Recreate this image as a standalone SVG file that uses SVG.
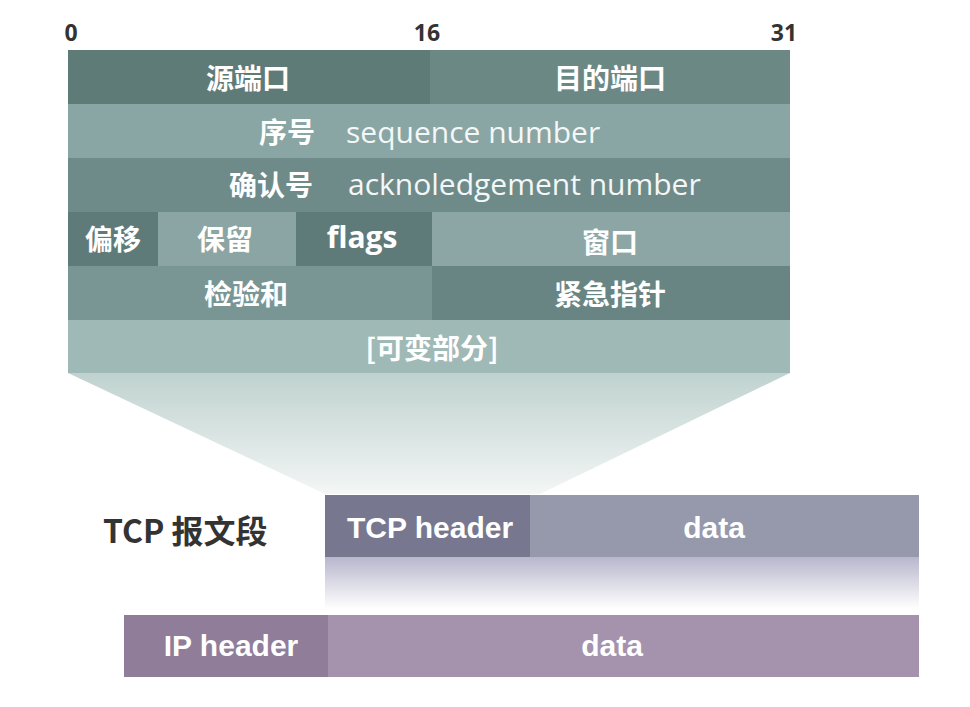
<svg xmlns="http://www.w3.org/2000/svg" width="970" height="707" viewBox="0 0 970 707">
<defs>
<linearGradient id="funnel" x1="0" y1="0" x2="0" y2="1">
<stop offset="0" stop-color="#bfd2cf"/>
<stop offset="1" stop-color="#f3f6f5"/>
</linearGradient>
<linearGradient id="fade" x1="0" y1="0" x2="0" y2="1">
<stop offset="0" stop-color="#b8b6cc"/>
<stop offset="1" stop-color="#ffffff"/>
</linearGradient>
<style>
.t{font-family:"Noto Sans CJK SC","Noto Sans",sans-serif;font-weight:bold;fill:#ffffff;text-anchor:middle;dominant-baseline:central;font-size:28px}
.e{font-family:"Open Sans","Noto Sans",sans-serif;font-weight:normal;fill:#f4f7f7;font-size:30px;dominant-baseline:central}
.n{font-family:"Open Sans","Noto Sans",sans-serif;font-weight:bold;fill:#333333;font-size:23px;text-anchor:middle}
.w{font-family:"Liberation Sans","Noto Sans",sans-serif;font-weight:bold;fill:#ffffff;font-size:30px;text-anchor:middle;dominant-baseline:central}
</style>
</defs>
<rect width="970" height="707" fill="#ffffff"/>
<g id="funnel-shape">
<polygon points="68,373 790,373 540,494 325,494" fill="url(#funnel)"/>
</g>
<g id="bit-labels">
<text class="n" x="71" y="41">0</text>
<text class="n" x="427" y="41">16</text>
<text class="n" x="784" y="41">31</text>
</g>
<g id="row1">
<rect x="68" y="50" width="362" height="54" fill="#5f7b78"/>
<rect x="430" y="50" width="360" height="54" fill="#6c8885"/>
<text class="t" x="248" y="77">源端口</text>
<text class="t" x="610" y="77">目的端口</text>
</g>
<g id="row2">
<rect x="68" y="104" width="722" height="54" fill="#8aa6a4"/>
<text class="t" x="287" y="131">序号</text>
<text class="e" x="346" y="131">sequence number</text>
</g>
<g id="row3">
<rect x="68" y="158" width="722" height="54" fill="#6f8b89"/>
<text class="t" x="271" y="184">确认号</text>
<text class="e" x="348" y="183">acknoledgement number</text>
</g>
<g id="row4">
<rect x="68" y="212" width="90" height="54" fill="#5f7b79"/>
<rect x="158" y="212" width="138" height="54" fill="#8aa5a3"/>
<rect x="296" y="212" width="136" height="54" fill="#5f7b79"/>
<rect x="432" y="212" width="358" height="54" fill="#8ba6a4"/>
<text class="t" x="113" y="238">偏移</text>
<text class="t" x="225" y="238">保留</text>
<text class="w" x="362" y="236" style="font-family:'Open Sans','Noto Sans',sans-serif">flags</text>
<text class="t" x="610" y="241">窗口</text>
</g>
<g id="row5">
<rect x="68" y="266" width="364" height="54" fill="#7a9694"/>
<rect x="432" y="266" width="358" height="54" fill="#698583"/>
<text class="t" x="246" y="293">检验和</text>
<text class="t" x="610" y="293">紧急指针</text>
</g>
<g id="row6">
<rect x="68" y="320" width="722" height="53" fill="#9fb9b6"/>
<text class="t" x="432" y="347">[可变部分]</text>
</g>
<g id="tcp-label">
<text x="103" y="529" style="font-family:'Noto Sans CJK SC','Noto Sans',sans-serif;font-weight:bold;font-size:32px;fill:#333333;dominant-baseline:central">TCP 报文段</text>
</g>
<g id="tcp-segment">
<rect x="325" y="557" width="594" height="52" fill="url(#fade)"/>
<rect x="325" y="495" width="205" height="62" fill="#777890"/>
<rect x="530" y="495" width="389" height="62" fill="#9698ab"/>
<text class="w" x="430" y="527">TCP header</text>
<text class="w" x="714" y="527">data</text>
</g>
<g id="ip-packet">
<rect x="124" y="615" width="204" height="62" fill="#8f7d9a"/>
<rect x="328" y="615" width="591" height="62" fill="#a593ae"/>
<text class="w" x="231" y="645">IP header</text>
<text class="w" x="612" y="645">data</text>
</g>
<g id="connectors"></g>
</svg>
